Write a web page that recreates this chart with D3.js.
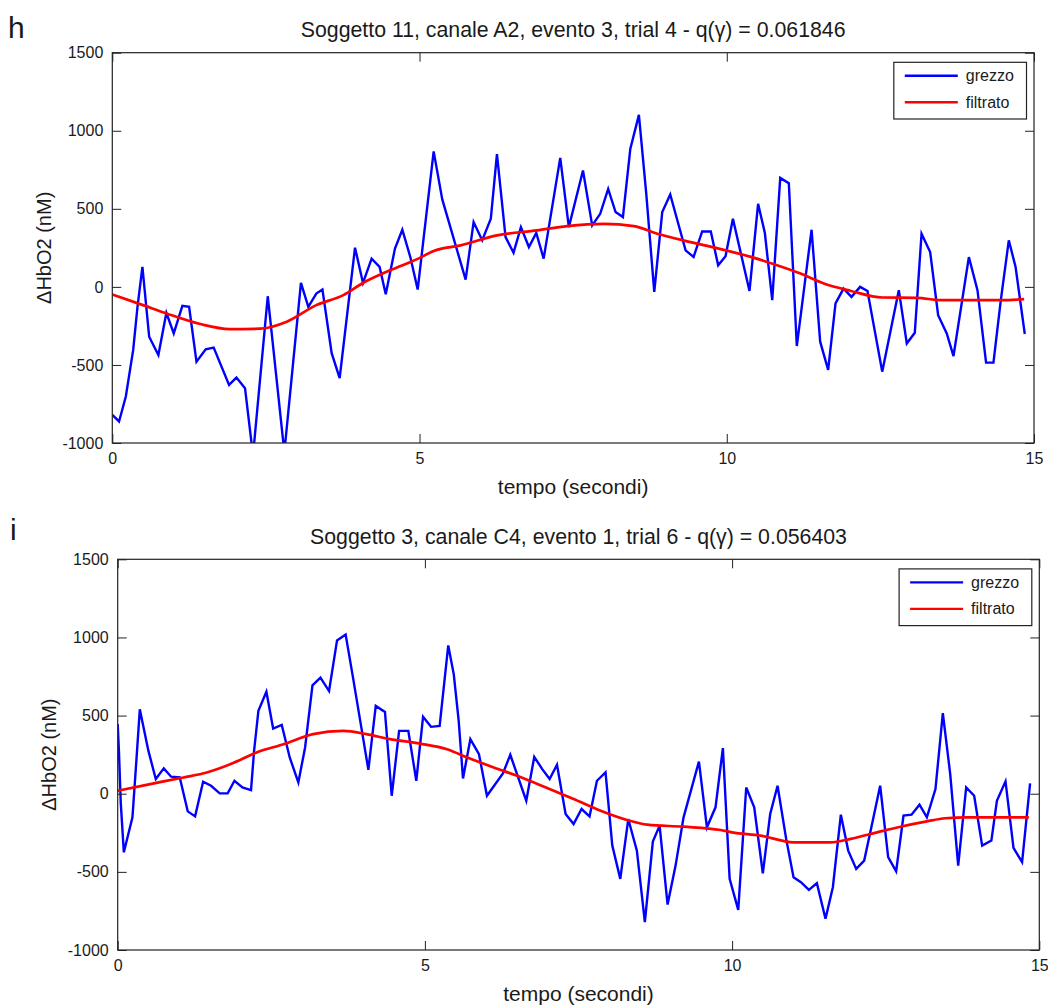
<!DOCTYPE html>
<html>
<head>
<meta charset="utf-8">
<script src="https://cdn.jsdelivr.net/npm/d3@7"></script>
<style>
  body { margin: 0; background: #fff; }
  svg text { font-family: "Liberation Sans", Arial, Helvetica, sans-serif; fill: #1a1a1a; }
</style>
</head>
<body>
<svg id="fig" width="1048" height="1005"></svg>
<script>
// ---- data: subject 11, channel A2, event 3, trial 4 ----
const rawT_h = [0,0.11,0.22,0.34,0.41,0.49,0.60,0.75,0.88,1.00,1.14,1.25,1.37,1.52,1.65,1.90,2.02,2.16,2.29,2.53,2.56,2.80,3.07,3.19,3.32,3.42,3.57,3.70,3.95,4.08,4.22,4.35,4.45,4.60,4.72,4.85,4.97,5.23,5.37,5.75,5.88,6.02,6.16,6.26,6.40,6.53,6.65,6.78,6.90,7.02,7.29,7.43,7.66,7.81,7.94,8.07,8.19,8.31,8.43,8.57,8.69,8.82,8.95,9.08,9.33,9.46,9.60,9.74,9.86,9.98,10.10,10.23,10.37,10.51,10.62,10.74,10.87,11.01,11.14,11.38,11.52,11.65,11.77,11.90,12.03,12.17,12.29,12.53,12.80,12.93,13.06,13.17,13.31,13.44,13.58,13.69,13.94,14.08,14.22,14.34,14.46,14.59,14.70,14.85];
const rawV_h = [-819,-862,-702,-404,-128,128,-319,-436,-166,-298,-121,-128,-479,-400,-389,-628,-581,-649,-1080,-60,-170,-1060,25,-128,-43,-17,-425,-585,251,25,181,128,-47,245,366,191,-17,868,560,47,415,298,436,851,319,219,383,255,345,181,826,383,745,394,468,628,479,447,883,1102,596,-32,479,592,234,192,355,355,138,196,436,213,-26,532,345,-85,698,664,-379,366,-351,-532,-106,-11,-64,0,-26,-543,-21,-362,-294,340,223,-181,-298,-443,191,-21,-485,-485,-85,298,128,-302];
const filtT_h = [0,0.5,0.88,1.43,1.91,2.40,2.84,3.32,3.76,4.08,4.52,4.98,5.23,5.67,6.26,6.91,7.40,8.00,8.49,8.87,9.41,9.87,10.39,10.77,11.20,11.58,12.02,12.53,13.10,13.48,14.46,14.84];
const filtV_h = [-49,-117,-170,-238,-270,-268,-223,-117,-53,25,106,181,230,266,330,362,389,404,389,340,287,245,192,145,85,21,-26,-68,-70,-85,-85,-79];

// ---- data: subject 3, channel C4, event 1, trial 6 ----
const rawT_i = [0,0.02,0.05,0.10,0.24,0.30,0.36,0.41,0.50,0.62,0.75,0.87,1.01,1.14,1.26,1.39,1.52,1.66,1.79,1.90,2.03,2.17,2.22,2.29,2.42,2.53,2.67,2.80,2.94,3.05,3.17,3.30,3.44,3.57,3.71,3.83,3.97,4.08,4.20,4.35,4.46,4.58,4.73,4.86,4.97,5.10,5.24,5.38,5.47,5.55,5.62,5.74,5.88,6.01,6.27,6.39,6.65,6.78,6.91,7.03,7.15,7.29,7.42,7.55,7.68,7.80,7.94,8.05,8.18,8.31,8.45,8.58,8.71,8.82,8.95,9.08,9.21,9.46,9.59,9.73,9.85,9.96,10.10,10.23,10.36,10.50,10.62,10.74,10.88,11.00,11.12,11.25,11.38,11.52,11.64,11.77,11.89,12.02,12.15,12.29,12.41,12.54,12.67,12.79,12.92,13.05,13.17,13.31,13.43,13.55,13.68,13.81,13.94,14.07,14.22,14.31,14.45,14.58,14.72,14.85];
const rawV_i = [445,275,-60,-375,-151,189,540,445,274,94,162,109,104,-113,-145,77,51,2,2,83,40,23,275,530,653,417,440,232,72,296,694,743,657,981,1019,743,413,153,562,523,-13,402,402,83,492,428,434,949,764,466,98,349,253,-13,130,249,-45,236,157,94,185,-130,-194,-98,-145,83,136,-332,-545,-162,-364,-821,-306,-204,-709,-460,-151,206,-215,-87,292,-545,-743,40,-87,-509,-130,51,-289,-534,-566,-615,-572,-800,-598,-134,-364,-481,-428,-172,51,-406,-496,-140,-134,-70,-151,30,515,126,-460,40,-13,-332,-300,-45,79,-347,-438,66];
const filtT_i = [0,0.47,1.07,1.45,1.88,2.26,2.70,3.18,3.67,4.05,4.43,4.92,5.36,5.69,6.12,6.50,6.94,7.42,7.86,8.29,8.62,9.21,9.81,10.0,10.46,11.0,11.60,11.93,12.36,12.74,13.17,13.47,13.82,14.83];
const filtV_i = [19,57,104,136,196,264,317,381,402,381,349,321,285,232,168,115,45,-34,-109,-168,-198,-211,-232,-247,-268,-311,-311,-289,-247,-211,-177,-157,-151,-151];

// ---- axes ticks and text ----
const xTicks = [0, 5, 10, 15];
const yTicks = [-1000, -500, 0, 500, 1000, 1500];
const seriesNames = ["grezzo", "filtrato"];
const titles = [
  "Soggetto 11, canale A2, evento 3, trial 4 - q(\u03B3) = 0.061846",
  "Soggetto 3, canale C4, evento 1, trial 6 - q(\u03B3) = 0.056403"
];
const letters = ["h", "i"];
const xLabel = "tempo (secondi)";
const yLabel = "\u0394HbO2 (nM)";

const pair = (ts, vs) => ts.map((t, i) => ({ t, v: vs[i] }));

const panels = [
  { id: "h", left: 112.3, right: 1034, top: 52.7, bottom: 443,
    raw: pair(rawT_h, rawV_h), filt: pair(filtT_h, filtV_h),
    title: titles[0], letter: letters[0], letterX: 8, letterY: 38, titleY: 37, yLabelX: 51 },
  { id: "i", left: 117.7, right: 1039.3, top: 559.3, bottom: 950,
    raw: pair(rawT_i, rawV_i), filt: pair(filtT_i, filtV_i),
    title: titles[1], letter: letters[1], letterX: 10, letterY: 540, titleY: 544, yLabelX: 56 }
];

const svg = d3.select("#fig");
const defs = svg.append("defs");
const ink = "#222";
const plain = d => String(d);   // hyphen-minus for negative ticks

panels.forEach(p => {
  const x = d3.scaleLinear().domain([0, 15]).range([p.left, p.right]);
  const y = d3.scaleLinear().domain([-1000, 1500]).range([p.bottom, p.top]);
  const g = svg.append("g");

  defs.append("clipPath").attr("id", "clip-" + p.id)
    .append("rect")
    .attr("x", p.left).attr("y", p.top)
    .attr("width", p.right - p.left).attr("height", p.bottom - p.top);

  // signals
  const plot = g.append("g").attr("clip-path", `url(#clip-${p.id})`);
  plot.append("path")
    .datum(p.raw)
    .attr("fill", "none").attr("stroke", "#0000ff").attr("stroke-width", 2.4)
    .attr("stroke-linejoin", "miter")
    .attr("d", d3.line().x(d => x(d.t)).y(d => y(d.v)));
  plot.append("path")
    .datum(p.filt)
    .attr("fill", "none").attr("stroke", "#ff0000").attr("stroke-width", 2.7)
    .attr("d", d3.line().curve(d3.curveMonotoneX).x(d => x(d.t)).y(d => y(d.v)));

  // axes with inward ticks on all four sides
  const styleAxis = sel => {
    sel.select(".domain").remove();
    sel.selectAll(".tick line").attr("stroke", ink);
    sel.attr("font-size", 16);
  };
  g.append("g").attr("transform", `translate(0,${p.bottom})`)
    .call(d3.axisBottom(x).tickValues(xTicks).tickFormat(plain)
      .tickSizeInner(-9).tickSizeOuter(0).tickPadding(10))
    .call(styleAxis);
  g.append("g").attr("transform", `translate(${p.left},0)`)
    .call(d3.axisLeft(y).tickValues(yTicks).tickFormat(plain)
      .tickSizeInner(-9).tickSizeOuter(0).tickPadding(9))
    .call(styleAxis);
  g.append("g").attr("transform", `translate(0,${p.top})`)
    .call(d3.axisTop(x).tickValues(xTicks).tickFormat("")
      .tickSizeInner(-9).tickSizeOuter(0))
    .call(styleAxis);
  g.append("g").attr("transform", `translate(${p.right},0)`)
    .call(d3.axisRight(y).tickValues(yTicks).tickFormat("")
      .tickSizeInner(-9).tickSizeOuter(0))
    .call(styleAxis);

  g.append("rect")
    .attr("x", p.left).attr("y", p.top)
    .attr("width", p.right - p.left).attr("height", p.bottom - p.top)
    .attr("fill", "none").attr("stroke", ink).attr("stroke-width", 1.2);

  // labels
  const cx = (p.left + p.right) / 2;
  g.append("text").attr("x", cx).attr("y", p.titleY)
    .attr("text-anchor", "middle").attr("font-size", 21.3).text(p.title);
  g.append("text").attr("x", cx).attr("y", p.bottom + 51)
    .attr("text-anchor", "middle").attr("font-size", 21).text(xLabel);
  g.append("text")
    .attr("transform", `translate(${p.yLabelX},${(p.top + p.bottom) / 2}) rotate(-90)`)
    .attr("text-anchor", "middle").attr("font-size", 20).text(yLabel);
  g.append("text").attr("x", p.letterX).attr("y", p.letterY)
    .attr("font-size", 30).text(p.letter);

  // legend
  const lw = 132.7, lh = 56.7;
  const lx = p.right - 7.5 - lw, ly = p.top + 9.6;
  const lg = g.append("g").attr("transform", `translate(${lx},${ly})`);
  lg.append("rect").attr("width", lw).attr("height", lh)
    .attr("fill", "#fff").attr("stroke", ink).attr("stroke-width", 1.2);
  const colors = ["#0000ff", "#ff0000"];
  seriesNames.forEach((name, i) => {
    const yy = 13.5 + i * 26.5;
    lg.append("line").attr("x1", 11).attr("x2", 64).attr("y1", yy).attr("y2", yy)
      .attr("stroke", colors[i]).attr("stroke-width", 2.4);
    lg.append("text").attr("x", 72).attr("y", yy + 5.5)
      .attr("font-size", 16).text(name);
  });
});
</script>
</body>
</html>
